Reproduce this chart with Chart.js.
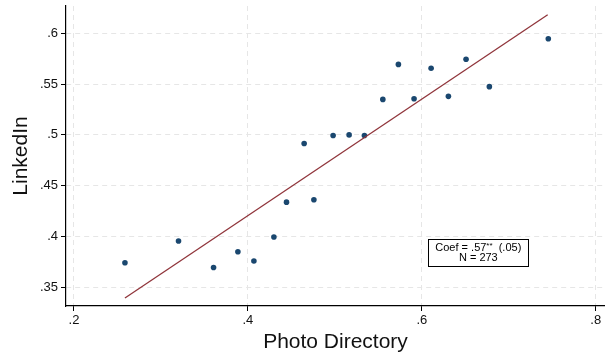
<!DOCTYPE html>
<html>
<head>
	<meta charset="utf-8">
	<title>LinkedIn vs Photo Directory</title>
	<script src="https://cdn.jsdelivr.net/npm/chart.js@4/dist/chart.umd.min.js"></script>
	<style>
		body { margin: 0; background: #fff; }
		canvas { display: block; }
	</style>
</head>
<body>

	<canvas id="mychart" width="605" height="355"></canvas>

	<script type="text/javascript">

		// binned means
		const binX = [0.2586, 0.3202, 0.3605, 0.3885, 0.4069, 0.4299, 0.4444, 0.4647, 0.4759, 0.4980,
		              0.5164, 0.5340, 0.5552, 0.5731, 0.5911, 0.6107, 0.6306, 0.6509, 0.6777, 0.7455];
		const binY = [0.3743, 0.3957, 0.3697, 0.3851, 0.3760, 0.3997, 0.4339, 0.4915, 0.4362, 0.4994,
		              0.5000, 0.4994, 0.5349, 0.5693, 0.5356, 0.5655, 0.5379, 0.5744, 0.5474, 0.5945];

		// fitted line end points
		const fitX = [0.2586, 0.7448];
		const fitY = [0.3397, 0.6181];

		const xTicks = [0.2, 0.4, 0.6, 0.8];
		const xTickLabels = ['.2', '.4', '.6', '.8'];
		const yTicks = [0.35, 0.4, 0.45, 0.5, 0.55, 0.6];
		const yTickLabels = ['.35', '.4', '.45', '.5', '.55', '.6'];

		const noteLines = ['Coef = .57', 'N = 273'];
		const noteStars = '**';
		const noteSe = '  (.05)';
		const notePos = { x: 0.665, y: 0.384 };

		const font = "'Liberation Sans', Arial, Helvetica, sans-serif";

		const notePlugin = {
			id: 'note',
			afterDatasetsDraw(chart) {
				const ctx = chart.ctx;
				const cx = chart.scales.x.getPixelForValue(notePos.x);
				const cy = chart.scales.y.getPixelForValue(notePos.y);
				ctx.save();
				ctx.fillStyle = '#fff';
				ctx.strokeStyle = '#000';
				ctx.lineWidth = 1;
				const w = 100, h = 27;
				const bx = Math.round(cx - w / 2) + 0.5, by = Math.round(cy - h / 2) + 0.5;
				ctx.fillRect(bx, by, w, h);
				ctx.strokeRect(bx, by, w, h);
				ctx.fillStyle = '#000';
				ctx.textBaseline = 'middle';
				// first line: pieces with raised stars
				ctx.font = '11px ' + font;
				const w1 = ctx.measureText(noteLines[0]).width;
				const w3 = ctx.measureText(noteSe).width;
				ctx.font = '8px ' + font;
				const w2 = ctx.measureText(noteStars).width;
				let x = cx - (w1 + w2 + w3) / 2;
				const y1 = by + 8.5;
				ctx.textAlign = 'left';
				ctx.font = '11px ' + font;
				ctx.fillText(noteLines[0], x, y1);
				x += w1;
				ctx.font = '8px ' + font;
				ctx.fillText(noteStars, x, y1 - 2);
				x += w2;
				ctx.font = '11px ' + font;
				ctx.fillText(noteSe, x, y1);
				ctx.textAlign = 'center';
				ctx.fillText(noteLines[1], cx, by + 18.5);
				ctx.restore();
			}
		};

		chartIt();

		function chartIt(){
			const ctx = document.getElementById('mychart').getContext('2d');

			const myChart = new Chart(ctx, {
				type: 'scatter',
				data: {
					datasets: [
					{
						type: 'line',
						label: 'fit',
						data: fitX.map((v, i) => ({ x: v, y: fitY[i] })),
						borderColor: '#90353b',
						borderWidth: 1.3,
						pointRadius: 0,
						fill: false
					},
					{
						label: 'bins',
						data: binX.map((v, i) => ({ x: v, y: binY[i] })),
						backgroundColor: '#1a476f',
						borderColor: '#1a476f',
						pointRadius: 2.8,
						borderWidth: 0
					}
				]},
				options: {
					responsive: false,
					animation: false,
					events: [],
					layout: { autoPadding: false, padding: { top: 6, right: 0, left: 0, bottom: 0 } },
					plugins: { legend: { display: false }, tooltip: { enabled: false } },
					scales: {
						x: {
							type: 'linear',
							min: 0.1908,
							max: 0.8107,
							afterBuildTicks: s => { s.ticks = xTicks.map(v => ({ value: v })); },
							afterFit: s => { s.height = 49; s.paddingLeft = 0; s.paddingRight = 0; },
							grid: { color: '#e6e6e6', lineWidth: 1, tickColor: '#000', tickLength: 5, tickWidth: 1 },
							border: { display: true, color: '#000', width: 1.2, dash: [5, 4] },
							ticks: {
								padding: 2,
								color: '#111',
								font: { family: font, size: 13 },
								maxRotation: 0,
								callback: v => xTickLabels[xTicks.findIndex(t => Math.abs(t - v) < 1e-6)]
							},
							title: { display: true, text: 'Photo Directory', color: '#111',
								font: { family: font, size: 21 }, padding: { top: 0, bottom: 0 } }
						},
						y: {
							type: 'linear',
							min: 0.3318,
							max: 0.6267,
							afterBuildTicks: s => { s.ticks = yTicks.map(v => ({ value: v })); },
							afterFit: s => { s.width = 66; s.paddingTop = 0; s.paddingBottom = 0; },
							grid: { color: '#e6e6e6', lineWidth: 1, tickColor: '#000', tickLength: 5, tickWidth: 1 },
							border: { display: true, color: '#000', width: 1.2, dash: [5, 4] },
							ticks: {
								padding: 3,
								color: '#111',
								font: { family: font, size: 13 },
								callback: v => yTickLabels[yTicks.findIndex(t => Math.abs(t - v) < 1e-6)]
							},
							title: { display: true, text: 'LinkedIn', color: '#111',
								font: { family: font, size: 21 }, padding: { top: 9, bottom: 0 } }
						}
					}
				},
				plugins: [notePlugin]
			});
		}

	</script>

</body>
</html>
